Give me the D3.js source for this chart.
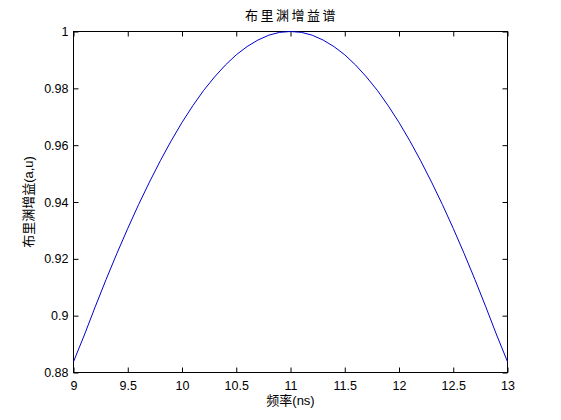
<!DOCTYPE html>
<meta charset="utf-8">
<style>
body { margin: 0; background: #fff; }
svg { display: block; font-family: "Liberation Sans", Arial, "Noto Sans CJK SC", sans-serif; }
.axis .domain { display: none; }
.axis line { stroke: #000; }
.axis text { font-size: 12.5px; fill: #000; }
</style>
<svg width="561" height="420"></svg>
<script src="https://d3js.org/d3.v7.min.js"></script>
<script>
// frequency samples (ns) and gain
var freq = [9.0, 9.1, 9.2, 9.3, 9.4, 9.5, 9.6, 9.7, 9.8, 9.9,
            10.0, 10.1, 10.2, 10.3, 10.4, 10.5, 10.6, 10.7, 10.8, 10.9,
            11.0, 11.1, 11.2, 11.3, 11.4, 11.5, 11.6, 11.7, 11.8, 11.9,
            12.0, 12.1, 12.2, 12.3, 12.4, 12.5, 12.6, 12.7, 12.8, 12.9, 13.0];
var gain = [0.8838, 0.8932, 0.9031, 0.9127, 0.9219, 0.9307, 0.9391, 0.9470, 0.9545, 0.9615,
            0.9680, 0.9739, 0.9793, 0.9840, 0.9882, 0.9918, 0.9947, 0.9970, 0.9987, 0.9997,
            1.0000, 0.9997, 0.9987, 0.9970, 0.9947, 0.9918, 0.9882, 0.9840, 0.9793, 0.9739,
            0.9680, 0.9615, 0.9545, 0.9470, 0.9391, 0.9307, 0.9219, 0.9127, 0.9031, 0.8932, 0.8838];
var xTicks = [9, 9.5, 10, 10.5, 11, 11.5, 12, 12.5, 13];
var xTickLabels = ["9", "9.5", "10", "10.5", "11", "11.5", "12", "12.5", "13"];
var yTicks = [0.88, 0.9, 0.92, 0.94, 0.96, 0.98, 1];
var yTickLabels = ["0.88", "0.9", "0.92", "0.94", "0.96", "0.98", "1"];

var svg = d3.select("svg");
var box = {left: 73.5, right: 507.5, top: 31.5, bottom: 372.5};

var x = d3.scaleLinear().domain([9, 13]).range([box.left, box.right]);
var y = d3.scaleLinear().domain([0.88, 1]).range([box.bottom, box.top]);

// axes with inward ticks, mirrored on top and right
svg.append("g")
    .attr("class", "axis")
    .attr("transform", "translate(0," + box.bottom + ")")
    .call(d3.axisBottom(x).tickValues(xTicks).tickSizeInner(-5).tickSizeOuter(0).tickPadding(9)
      .tickFormat(function(d, i) { return xTickLabels[i]; }));

svg.append("g")
    .attr("class", "axis")
    .attr("transform", "translate(" + box.left + ",0)")
    .call(d3.axisLeft(y).tickValues(yTicks).tickSizeInner(-5).tickSizeOuter(0).tickPadding(5)
      .tickFormat(function(d, i) { return yTickLabels[i]; }));

svg.append("g")
    .attr("class", "axis")
    .attr("transform", "translate(0," + box.top + ")")
    .call(d3.axisTop(x).tickValues(xTicks).tickSizeInner(-5).tickSizeOuter(0).tickFormat(""));

svg.append("g")
    .attr("class", "axis")
    .attr("transform", "translate(" + box.right + ",0)")
    .call(d3.axisRight(y).tickValues(yTicks).tickSizeInner(-5).tickSizeOuter(0).tickFormat(""));

// box
svg.append("rect")
    .attr("x", box.left).attr("y", box.top)
    .attr("width", box.right - box.left).attr("height", box.bottom - box.top)
    .attr("fill", "none").attr("stroke", "#000");

// curve
var line = d3.line()
    .x(function(d, i) { return x(freq[i]); })
    .y(function(d) { return y(d); });

svg.append("path")
    .datum(gain)
    .attr("d", line)
    .attr("fill", "none")
    .attr("stroke", "#0000d0")
    .attr("stroke-width", 1);

// title and labels
svg.append("text")
    .attr("x", (box.left + box.right) / 2 + 1)
    .attr("y", 20)
    .attr("text-anchor", "middle")
    .style("font-size", "13px")
    .style("letter-spacing", "2.5px")
    .text("布里渊增益谱");

svg.append("text")
    .attr("x", (box.left + box.right) / 2)
    .attr("y", 405)
    .attr("text-anchor", "middle")
    .style("font-size", "13px")
    .text("频率(ns)");

svg.append("text")
    .attr("transform", "translate(33," + ((box.top + box.bottom) / 2) + ") rotate(-90)")
    .attr("text-anchor", "middle")
    .style("font-size", "13px")
    .text("布里渊增益(a,u)");
</script>
